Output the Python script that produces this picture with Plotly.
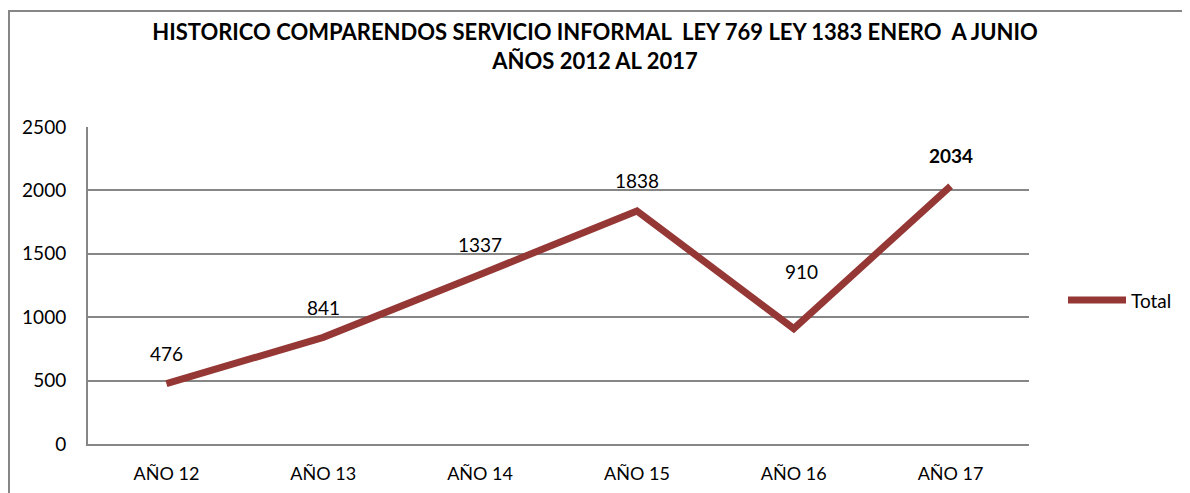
import plotly.graph_objects as go

# data
categorias = ['AÑO 12', 'AÑO 13', 'AÑO 14', 'AÑO 15', 'AÑO 16', 'AÑO 17']
total = [476, 841, 1337, 1838, 910, 2034]
desplaz = [30, 30, 30, 30, 57, 31]  # label offsets above points (px)
y_ticks = [0, 500, 1000, 1500, 2000, 2500]

color_linea = '#953735'
fuente = 'Lato'

# page body has an 8px margin, so the figure is drawn a bit smaller
W, H = 1182, 485
L, T = 80, 119
PW, PH = 941, 317

fig = go.Figure()
fig.add_trace(go.Scatter(
	x=categorias, y=total, mode='lines', name='Total', showlegend=False,
	line=dict(color=color_linea, width=7)))

# data labels
for i in range(len(categorias)):
	texto = str(total[i])
	if i == len(categorias) - 1:
		texto = '<b>' + texto + '</b>'
	fig.add_annotation(x=categorias[i], y=total[i], text=texto, showarrow=False,
		yshift=desplaz[i], xshift=8 if i == 4 else 0,
		font=dict(family=fuente, size=19, color='black'))

# hand drawn legend
ley_y = (T + PH - 292) / PH
fig.add_shape(type='line', xref='paper', yref='paper',
	x0=(1060 - L) / PW, x1=(1118 - L) / PW, y0=ley_y, y1=ley_y,
	line=dict(color=color_linea, width=7))
fig.add_annotation(xref='paper', yref='paper', x=(1121 - L) / PW, y=ley_y, text='Total',
	showarrow=False, xanchor='left', yanchor='middle', font=dict(family=fuente, size=19, color='black'))

# outer chart border (only top/left visible in the crop)
fig.add_shape(type='rect', xref='paper', yref='paper',
	x0=(1 - L) / PW, x1=1.4, y0=-0.5, y1=(T + PH - 3) / PH,
	line=dict(color='#868686', width=2))

fig.update_layout(
	width=W, height=H,
	margin=dict(l=L, r=W - L - PW, t=T, b=H - T - PH, autoexpand=False),
	paper_bgcolor='white', plot_bgcolor='white',
	title=dict(text='<b>HISTORICO COMPARENDOS SERVICIO INFORMAL  LEY 769 LEY 1383 ENERO  A JUNIO<br>AÑOS 2012 AL 2017</b>',
		x=0.5 - 4 / W, xanchor='center', xref='container', y=1 - 32 / H, yanchor='top', yref='container',
		automargin=False, font=dict(family=fuente, size=22, color='black')),
	showlegend=False,
	font=dict(family=fuente, color='black'),
)
fig.update_xaxes(range=[-0.5, 5.5], showgrid=False, showline=True, linecolor='#868686', linewidth=2,
	automargin=False, ticks='', tickfont=dict(family=fuente, size=18, color='black'), ticklabelstandoff=12)
fig.update_yaxes(range=[0, 2500], tickvals=y_ticks, showgrid=True, gridcolor='#868686', gridwidth=2,
	showline=True, linecolor='#868686', linewidth=2, zeroline=False, automargin=False,
	ticks='', tickfont=dict(family=fuente, size=19, color='black'), ticklabelstandoff=16)

fig.write_html('out.html')
